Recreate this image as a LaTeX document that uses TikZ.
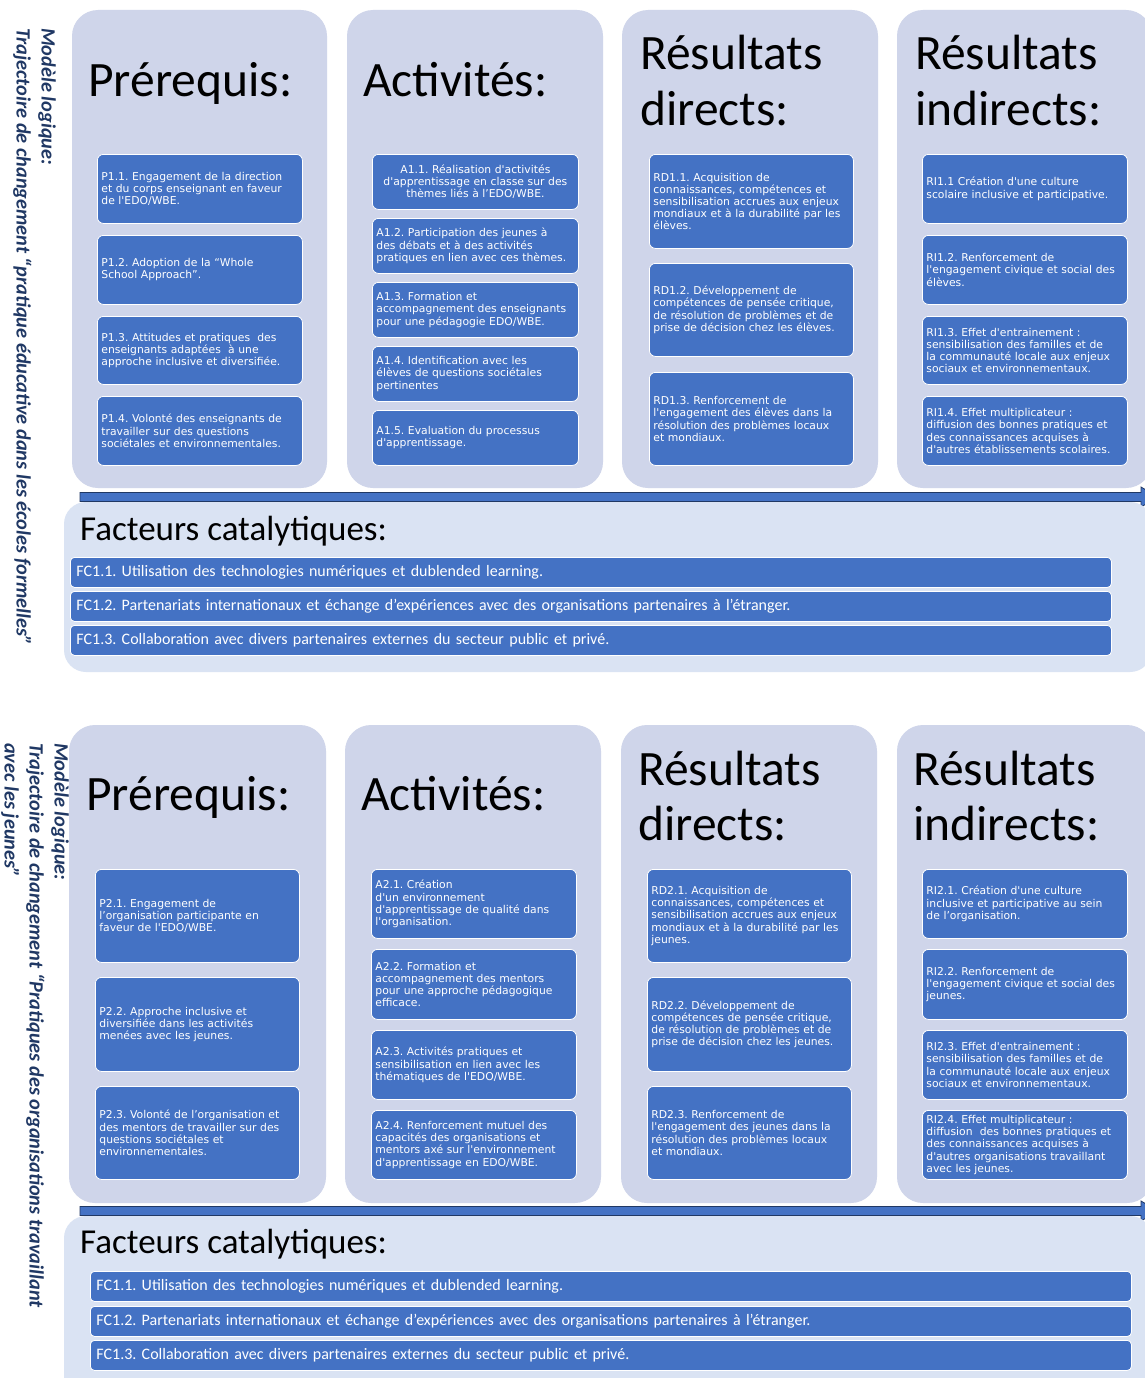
\documentclass[tikz,border=0pt]{standalone}
\usepackage{fontspec}
\setmainfont{Carlito}
\newfontfamily\boxfont{DejaVu Sans}
\usepackage{tikz}
\definecolor{panelgrey}{HTML}{CFD5EA}
\definecolor{factorgrey}{HTML}{DAE3F3}
\definecolor{boxblue}{HTML}{4472C4}
\definecolor{navy}{HTML}{203864}
\frenchspacing

\begin{document}
\begin{tikzpicture}[x=1pt, y=-1pt,
		panel/.style={fill=panelgrey, draw=none, rounded corners=26pt},
		factorpanel/.style={fill=factorgrey, draw=none, rounded corners=22pt},
		itembox/.style={fill=boxblue, draw=white, line width=0.8pt, rounded corners=6pt,
			anchor=north west, inner xsep=4pt, inner ysep=0pt, text=white, align=left,
			font=\boxfont\fontsize{10.8}{12.2}\selectfont, minimum height=#1},
		factorbox/.style={fill=boxblue, draw=white, line width=0.8pt, rounded corners=4pt,
			anchor=north west, inner xsep=6pt, inner ysep=0pt, text=white, align=left,
			text width=1029pt, font=\fontsize{16}{18}\selectfont, minimum height=30pt},
		heading/.style={anchor=base west, inner sep=0pt, font=\fontsize{49.5}{55}\selectfont},
		factorhead/.style={anchor=base west, inner sep=0pt, font=\fontsize{35}{40}\selectfont},
		sidetext/.style={rotate=-90, anchor=north west, inner sep=0pt, align=left, text=navy,
			font=\bfseries\itshape\fontsize{20.3}{25}\selectfont}]
			%%%%% START %%%%%
			\useasboundingbox (0, 0) rectangle (1145, 1378);
			\fill[white] (0, 0) rectangle (1145, 1378);
			
			%%%%% upper model %%%%%
			\node[sidetext] (side1) at (56, 28) {Modèle logique:\\Trajectoire de changement “pratique éducative dans les écoles formelles”};
			
			\draw[panel] (72, 10) rectangle (327, 488);
			\draw[panel] (347, 10) rectangle (603, 488);
			\draw[panel] (622, 10) rectangle (878, 488);
			\draw[panel] (897, 10) rectangle (1152, 488);
			
			\node[heading] (pre1) at (88, 97) {Prérequis:};
			\node[heading] (act1) at (363, 97) {Activités:};
			\node[heading] (rd1a) at (640, 70) {Résultats};
			\node[heading] (rd1b) at (640, 125) {directs:};
			\node[heading] (ri1a) at (915, 70) {Résultats};
			\node[heading] (ri1b) at (915, 125) {indirects:};
			
			\node[itembox=69pt, text width=197pt] (p11) at (97, 154) {P1.1. Engagement de la direction\\et du corps enseignant en faveur\\de l'EDO/WBE.};
			\node[itembox=69pt, text width=197pt] (p12) at (97, 235) {P1.2. Adoption de la “Whole\\School Approach”.};
			\node[itembox=68pt, text width=197pt] (p13) at (97, 316) {P1.3. Attitudes et pratiques\ \ des\\enseignants adaptées\ \ à une\\approche inclusive et diversifiée.};
			\node[itembox=69pt, text width=197pt] (p14) at (97, 396) {P1.4. Volonté des enseignants de\\travailler sur des questions\\sociétales et environnementales.};
			
			\node[itembox=55pt, text width=198pt, align=center] (a11) at (372, 154) {A1.1. Réalisation d'activités\\d'apprentissage en classe sur des\\thèmes liés à l’EDO/WBE.};
			\node[itembox=55pt, text width=198pt] (a12) at (372, 218) {A1.2. Participation des jeunes à\\des débats et à des activités\\pratiques en lien avec ces thèmes.};
			\node[itembox=55pt, text width=198pt] (a13) at (372, 282) {A1.3. Formation et\\accompagnement des enseignants\\pour une pédagogie EDO/WBE.};
			\node[itembox=55pt, text width=198pt] (a14) at (372, 346) {A1.4. Identification avec les\\élèves de questions sociétales\\pertinentes};
			\node[itembox=55pt, text width=198pt] (a15) at (372, 410) {A1.5. Evaluation du processus\\d'apprentissage.};
			
			\node[itembox=94pt, text width=196pt] (rd11) at (649, 154) {RD1.1. Acquisition de\\connaissances, compétences et\\sensibilisation accrues aux enjeux\\mondiaux et à la durabilité par les\\élèves.};
			\node[itembox=93pt, text width=196pt] (rd12) at (649, 263) {RD1.2. Développement de\\compétences de pensée critique,\\de résolution de problèmes et de\\prise de décision chez les élèves.};
			\node[itembox=93pt, text width=196pt] (rd13) at (649, 372) {RD1.3. Renforcement de\\l'engagement des élèves dans la\\résolution des problèmes locaux\\et mondiaux.};
			
			\node[itembox=69pt, text width=197pt] (ri11) at (922, 154) {RI1.1 Création d'une culture\\scolaire inclusive et participative.};
			\node[itembox=69pt, text width=197pt] (ri12) at (922, 235) {RI1.2. Renforcement de\\l'engagement civique et social des\\élèves.};
			\node[itembox=68pt, text width=197pt] (ri13) at (922, 316) {RI1.3. Effet d'entrainement :\\sensibilisation des familles et de\\la communauté locale aux enjeux\\sociaux et environnementaux.};
			\node[itembox=69pt, text width=197pt] (ri14) at (922, 396) {RI1.4. Effet multiplicateur :\\diffusion des bonnes pratiques et\\des connaissances acquises à\\d'autres établissements scolaires.};
			
			\draw[fill=boxblue, draw=navy, line width=0.8pt] (80, 492.5) -- (1141, 492.5) -- (1141, 487) -- (1158, 497) -- (1141, 507) -- (1141, 501.5) -- (80, 501.5) -- cycle;
			
			\draw[factorpanel] (64, 502) rectangle (1152, 672);
			\node[factorhead] (fac1) at (80, 540) {Facteurs catalytiques:};
			\node[factorbox] (fc11) at (70, 557) {FC1.1. Utilisation des technologies numériques et dublended learning.};
			\node[factorbox] (fc12) at (70, 591) {FC1.2. Partenariats internationaux et échange d'expériences avec des organisations partenaires à l’étranger.};
			\node[factorbox] (fc13) at (70, 625) {FC1.3. Collaboration avec divers partenaires externes du secteur public et privé.};
			
			%%%%% lower model %%%%%
			\node[sidetext] (side2) at (69, 743) {Modèle logique:\\Trajectoire de changement “Pratiques des organisations travaillant\\avec les jeunes”};
			
			\draw[panel] (69, 725) rectangle (326, 1203);
			\draw[panel] (345, 725) rectangle (601, 1203);
			\draw[panel] (621, 725) rectangle (877, 1203);
			\draw[panel] (897, 725) rectangle (1153, 1203);
			
			\node[heading] (pre2) at (86, 810) {Prérequis:};
			\node[heading] (act2) at (361, 810) {Activités:};
			\node[heading] (rd2a) at (638, 785) {Résultats};
			\node[heading] (rd2b) at (638, 840) {directs:};
			\node[heading] (ri2a) at (913, 785) {Résultats};
			\node[heading] (ri2b) at (913, 840) {indirects:};
			
			\node[itembox=93pt, text width=196pt] (p21) at (95, 869) {P2.1. Engagement de\\l’organisation participante en\\faveur de l'EDO/WBE.};
			\node[itembox=94pt, text width=196pt] (p22) at (95, 977) {P2.2. Approche inclusive et\\diversifiée dans les activités\\menées avec les jeunes.};
			\node[itembox=93pt, text width=196pt] (p23) at (95, 1086) {P2.3. Volonté de l’organisation et\\des mentors de travailler sur des\\questions sociétales et\\environnementales.};
			
			\node[itembox=69pt, text width=197pt] (a21) at (371, 869) {A2.1. Création\\d'un environnement\\d'apprentissage de qualité dans\\l'organisation.};
			\node[itembox=70pt, text width=197pt] (a22) at (371, 949) {A2.2. Formation et\\accompagnement des mentors\\pour une approche pédagogique\\efficace.};
			\node[itembox=69pt, text width=197pt] (a23) at (371, 1030) {A2.3. Activités pratiques et\\sensibilisation en lien avec les\\thématiques de l'EDO/WBE.};
			\node[itembox=69pt, text width=197pt] (a24) at (371, 1110) {A2.4. Renforcement mutuel des\\capacités des organisations et\\mentors axé sur l'environnement\\d'apprentissage en EDO/WBE.};
			
			\node[itembox=93pt, text width=196pt] (rd21) at (647, 869) {RD2.1. Acquisition de\\connaissances, compétences et\\sensibilisation accrues aux enjeux\\mondiaux et à la durabilité par les\\jeunes.};
			\node[itembox=94pt, text width=196pt] (rd22) at (647, 977) {RD2.2. Développement de\\compétences de pensée critique,\\de résolution de problèmes et de\\prise de décision chez les jeunes.};
			\node[itembox=93pt, text width=196pt] (rd23) at (647, 1086) {RD2.3. Renforcement de\\l'engagement des jeunes dans la\\résolution des problèmes locaux\\et mondiaux.};
			
			\node[itembox=69pt, text width=197pt] (ri21) at (922, 869) {RI2.1. Création d'une culture\\inclusive et participative au sein\\de l’organisation.};
			\node[itembox=70pt, text width=197pt] (ri22) at (922, 949) {RI2.2. Renforcement de\\l'engagement civique et social des\\jeunes.};
			\node[itembox=69pt, text width=197pt] (ri23) at (922, 1030) {RI2.3. Effet d'entrainement :\\sensibilisation des familles et de\\la communauté locale aux enjeux\\sociaux et environnementaux.};
			\node[itembox=69pt, text width=197pt] (ri24) at (922, 1110) {RI2.4. Effet multiplicateur :\\diffusion\ \ des bonnes pratiques et\\des connaissances acquises à\\d'autres organisations travaillant\\avec les jeunes.};
			
			\draw[fill=boxblue, draw=navy, line width=0.8pt] (80, 1206.5) -- (1141, 1206.5) -- (1141, 1201) -- (1158, 1211) -- (1141, 1221) -- (1141, 1215.5) -- (80, 1215.5) -- cycle;
			
			\draw[factorpanel] (64, 1216) rectangle (1152, 1420);
			\node[factorhead] (fac2) at (80, 1253) {Facteurs catalytiques:};
			\node[factorbox] (fc21) at (90, 1271) {FC1.1. Utilisation des technologies numériques et dublended learning.};
			\node[factorbox] (fc22) at (90, 1306) {FC1.2. Partenariats internationaux et échange d'expériences avec des organisations partenaires à l’étranger.};
			\node[factorbox] (fc23) at (90, 1340) {FC1.3. Collaboration avec divers partenaires externes du secteur public et privé.};
			
			%%%%% END %%%%%
		\end{tikzpicture}
\end{document}
